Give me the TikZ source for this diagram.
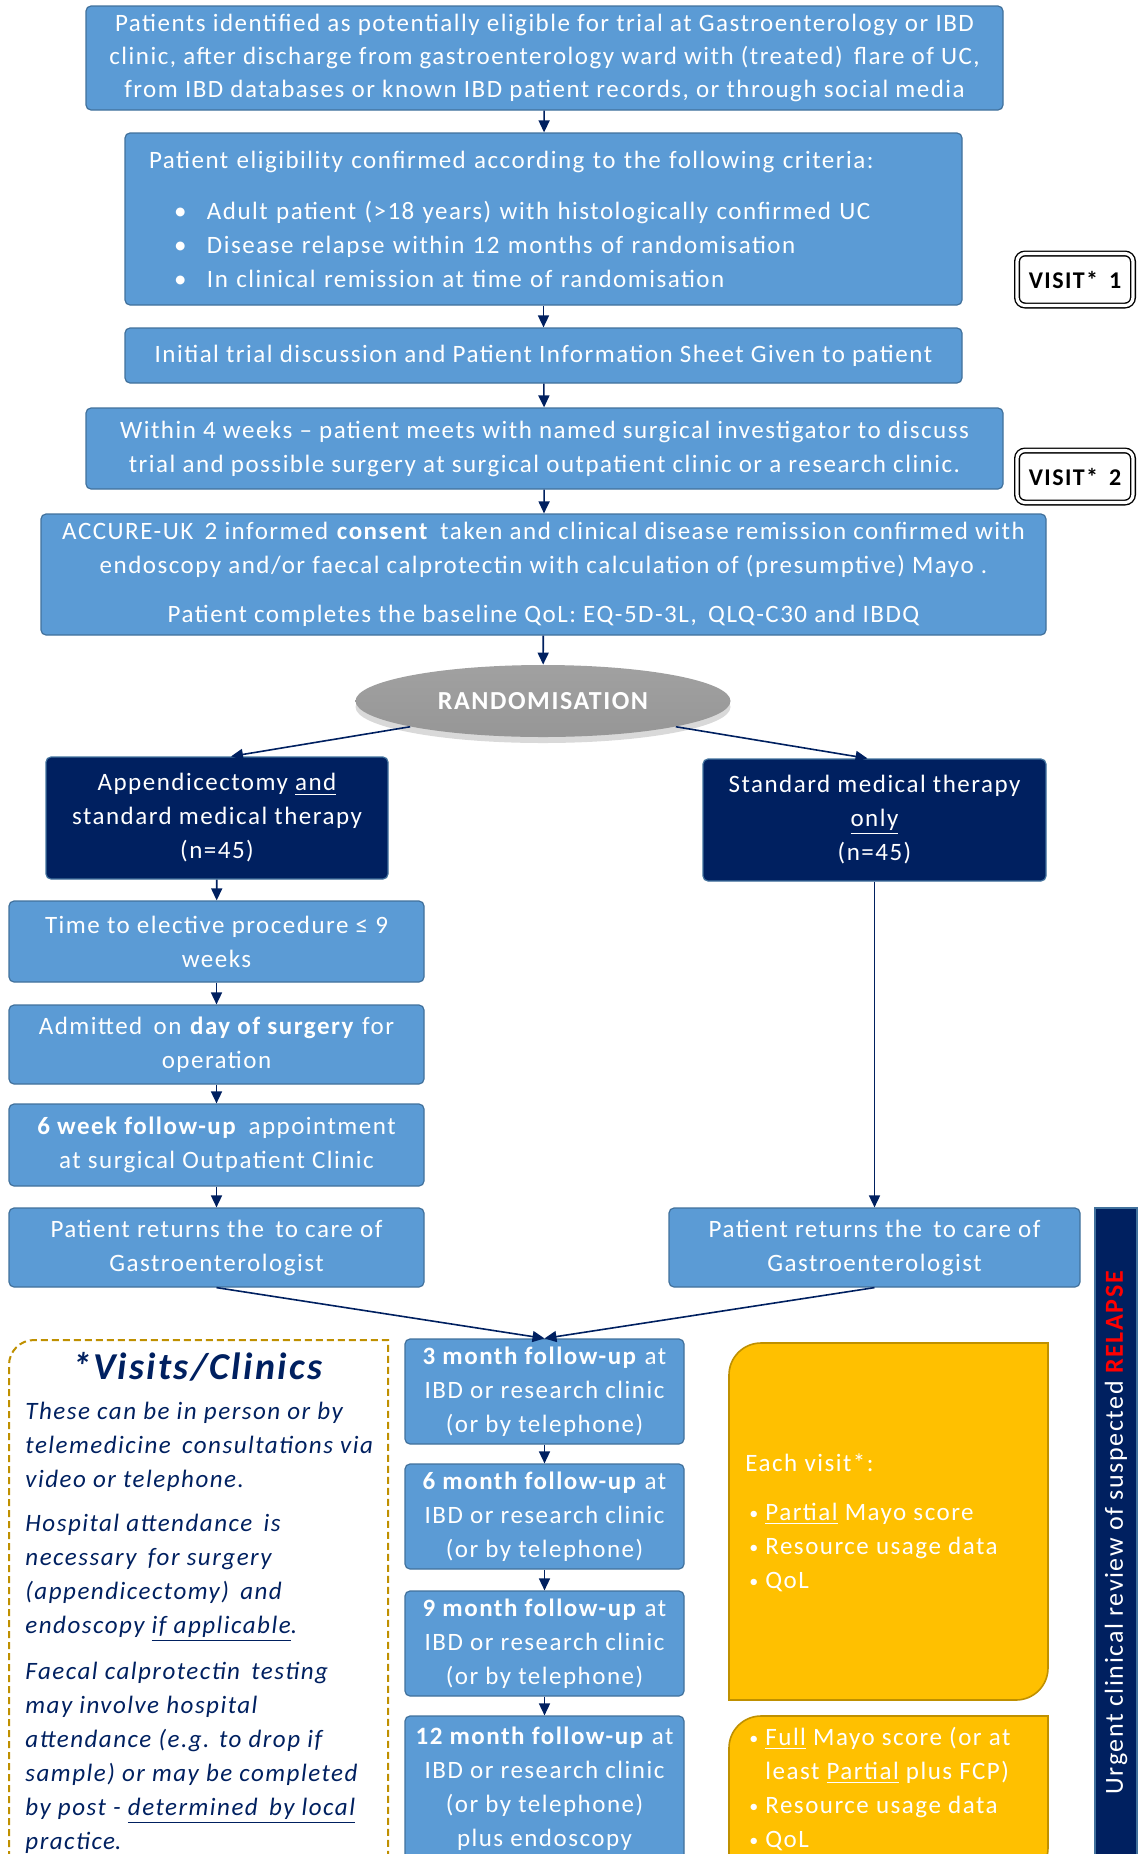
\documentclass[tikz,border=0pt]{standalone}
\usepackage{fontspec}
\setmainfont{Carlito}[LetterSpace=6]
\usetikzlibrary{
  arrows.meta,
  shapes.geometric,
  chains,
  scopes,
  positioning,
  shadows
}
\definecolor{navy}{HTML}{002060}
\definecolor{boxblue}{HTML}{5B9BD5}
\definecolor{boxline}{HTML}{41719C}
\definecolor{gold}{HTML}{FFC000}
\definecolor{goldline}{HTML}{BF9000}
\newcommand\boxfont{\fontsize{12.5pt}{17pt}\selectfont}
\newcommand\blt{\makebox[8pt][l]{\raisebox{0.5pt}{\fontsize{9pt}{9pt}\selectfont\textbullet}}}

\begin{document}
\begin{tikzpicture}[x=0.5pt,y=-0.5pt,
      stepbox/.style={
         rectangle,
         draw=boxline,
         line width=0.6pt,
         fill=boxblue,
         rounded corners=2.5pt,
         text=white,
         align=center,
         inner sep=0pt,
         font=\boxfont
      },
      armbox/.style={stepbox, fill=navy},
      randnode/.style={
         ellipse,
         inner sep=0pt,
         top color=black!37,
         bottom color=black!41,
         draw=none,
         text=white,
         drop shadow={opacity=0.3, shadow xshift=0pt, shadow yshift=-3pt},
         font=\bfseries\fontsize{13pt}{15pt}\selectfont
      },
      flag/.style={
         rectangle,
         draw=black,
         line width=0.7pt,
         double,
         double distance=1.6pt,
         fill=white,
         rounded corners=4pt,
         minimum width=58pt,
         minimum height=26pt,
         inner sep=0pt,
         font=\bfseries\fontsize{12pt}{14pt}\selectfont
      },
      goldbox/.style={fill=gold, draw=goldline, line width=0.8pt},
      goldtext/.style={text=white, align=left, inner sep=0pt, font=\boxfont},
      notebox/.style={draw=goldline, line width=1pt, dash pattern=on 3.5pt off 2pt},
      notetext/.style={text=navy, align=left, inner sep=0pt, font=\itshape\boxfont},
      tip/.style={-{Triangle[length=6pt,width=5.5pt]}, draw=navy, line width=0.8pt}
    ]
  \useasboundingbox (0,0) rectangle (1137,1854);

  % main column
  \node (b1) [stepbox, minimum width=458.5pt, minimum height=52pt,
              font=\fontsize{12.5pt}{16.5pt}\selectfont] at (544.5,58)
    {Patients identified as potentially eligible for trial at Gastroenterology or IBD\\
     clinic, after discharge from gastroenterology ward with (treated)\, flare of UC,\\
     from IBD databases or known IBD patient records, or through social media};
  \node (b2) [stepbox, align=left, text width=394.5pt, inner xsep=12pt,
              minimum height=86pt] at (543.5,219)
    {Patient eligibility confirmed according to the following criteria:\\[8.5pt]
     \hspace*{12.5pt}\makebox[16.5pt][l]{\textbullet}Adult patient (>18 years) with histologically confirmed UC\\
     \hspace*{12.5pt}\makebox[16.5pt][l]{\textbullet}Disease relapse within 12 months of randomisation\\
     \hspace*{12.5pt}\makebox[16.5pt][l]{\textbullet}In clinical remission at time of randomisation};
  \node (b3) [stepbox, minimum width=418.5pt, minimum height=27.5pt] at (543.5,355.5)
    {Initial trial discussion and Patient Information Sheet Given to patient};
  \node (b4) [stepbox, minimum width=458.5pt, minimum height=40.5pt] at (544.5,448.5)
    {Within 4 weeks -- patient meets with named surgical investigator to discuss\\
     trial and possible surgery at surgical outpatient clinic or a research clinic.};
  \node (b5) [stepbox, minimum width=502.5pt, minimum height=60.5pt] at (543.5,574.5)
    {ACCURE-UK\, 2 informed \textbf{consent}\, taken and clinical disease remission confirmed with\\
     endoscopy and/or faecal calprotectin with calculation of (presumptive) Mayo .\\[7.5pt]
     Patient completes the baseline QoL: EQ-5D-3L,\, QLQ-C30 and IBDQ};
  \node (rand) [randnode, minimum width=187.5pt, minimum height=36pt] at (543,701) {RANDOMISATION};

  \node (v1) [flag] at (1075,279.5) {VISIT*\, 1};
  \node (v2) [flag] at (1075,476.5) {VISIT*\, 2};

  % two arms
  \node (armL) [armbox, minimum width=171pt, minimum height=61pt] at (217,818)
    {Appendicectomy \underline{and}\\ standard medical therapy\\ (n=45)};
  \node (armR) [armbox, minimum width=171.5pt, minimum height=61pt] at (874.5,820)
    {Standard medical therapy\\ \underline{only}\\ (n=45)};

  \node (tL) [stepbox, minimum width=207.5pt, minimum height=40.5pt] at (216.5,941.5)
    {Time to elective procedure ≤ 9\\ weeks};
  \node (aL) [stepbox, minimum width=207.5pt, minimum height=39.5pt] at (216.5,1044.5)
    {Admitted\, on \textbf{day of surgery} for\\ operation};
  \node (wL) [stepbox, minimum width=207.5pt, minimum height=41pt] at (216.5,1145)
    {\textbf{6 week follow-up}\, appointment\\ at surgical Outpatient Clinic};
  \node (retL) [stepbox, minimum width=207.5pt, minimum height=39.5pt] at (216.5,1247.5)
    {Patient returns the\, to care of\\ Gastroenterologist};
  \node (retR) [stepbox, minimum width=205.5pt, minimum height=39.5pt] at (874.5,1247.5)
    {Patient returns the\, to care of\\ Gastroenterologist};

  % follow-up column
  \node (f3) [stepbox, minimum width=139.5pt, minimum height=52.5pt] at (544.5,1391.5)
    {\textbf{3 month follow-up} at\\ IBD or research clinic\\ (or by telephone)};
  \node (f6) [stepbox, minimum width=139.5pt, minimum height=52.5pt] at (544.5,1516.5)
    {\textbf{6 month follow-up} at\\ IBD or research clinic\\ (or by telephone)};
  \node (f9) [stepbox, minimum width=139.5pt, minimum height=52.5pt] at (544.5,1643.5)
    {\textbf{9 month follow-up} at\\ IBD or research clinic\\ (or by telephone)};
  \node (f12) [stepbox, minimum width=139.5pt, minimum height=72.5pt] at (544.5,1788.5)
    {\textbf{12 month follow-up} at\\ IBD or research clinic\\ (or by telephone)\\ plus endoscopy};

  % visits note
  \draw[notebox] (9,1880) -- (9,1365) arc[start angle=180, end angle=90, radius=12.5pt]
    -- (388,1340) -- (388,1880);
  \node (vtitle) [text=navy, font=\bfseries\itshape\fontsize{19pt}{22pt}\selectfont] at (197,1367)
    {*Visits/Clinics};
  \node (vbody) [notetext, anchor=north west] at (25,1402)
    {These can be in person or by\\
     telemedicine\, consultations via\\
     video or telephone.\\[5pt]
     Hospital attendance\, is\\
     necessary\, for surgery\\
     (appendicectomy)\, and\\
     endoscopy \underline{if applicable}.\\[6pt]
     Faecal calprotectin\, testing\\
     may involve hospital\\
     attendance (e.g. to drop if\\
     sample) or may be completed\\
     by post - \underline{determined\, by local}\\
     \underline{practice}.};

  % each visit boxes
  \draw[goldbox] (729,1375) arc[start angle=180, end angle=90, radius=16pt] -- (1048,1343)
    -- (1048,1668) arc[start angle=0, end angle=-90, radius=16pt] -- (729,1700) -- cycle;
  \draw[goldbox] (729,1748) arc[start angle=180, end angle=90, radius=16pt] -- (1048,1716)
    -- (1048,1848) arc[start angle=0, end angle=-90, radius=16pt] -- (729,1880) -- cycle;
  \node (g1) [goldtext, anchor=west] at (745,1522.5)
    {Each visit*:\\[7.5pt]
     \hspace*{2pt}\blt\underline{Partial} Mayo score\\
     \hspace*{2pt}\blt Resource usage data\\
     \hspace*{2pt}\blt QoL};
  \node (g2) [goldtext, anchor=west] at (749,1788.5)
    {\blt\underline{Full} Mayo score (or at\\
     \hspace*{8pt}least \underline{Partial} plus FCP)\\
     \blt Resource usage data\\
     \blt QoL};

  % relapse bar
  \node (bar) [rectangle, fill=navy, draw=boxline, line width=0.6pt,
               minimum width=21pt, minimum height=330pt, inner sep=0pt] at (1116,1538) {};
  \node (relapse) [rotate=90, text=white, font=\fontsize{13pt}{15pt}\selectfont] at (1116,1532)
    {Urgent clinical review of suspected \textcolor{red}{\textbf{RELAPSE}}};

  % connectors
  { [start chain]
       \chainin (b1);
       \chainin (b2)    [join=by tip];
       \chainin (b3)    [join=by tip];
       \chainin (b4)    [join=by tip];
       \chainin (b5)    [join=by tip];
       \chainin (rand)  [join=by tip];
  }
  { [start chain]
       \chainin (armL);
       \chainin (tL)    [join=by tip];
       \chainin (aL)    [join=by tip];
       \chainin (wL)    [join=by tip];
       \chainin (retL)  [join=by tip];
  }
  { [start chain]
       \chainin (armR);
       \chainin (retR)  [join=by tip];
  }
  { [start chain]
       \chainin (f3);
       \chainin (f6)    [join=by tip];
       \chainin (f9)    [join=by tip];
       \chainin (f12)   [join=by tip];
  }
  \draw[tip] (rand.south west) -- ([xshift=7pt]armL.north);
  \draw[tip] (rand.south east) -- ([xshift=-3.5pt]armR.north);
  \draw[tip] (retL.south) -- (f3.north);
  \draw[tip] (retR.south) -- (f3.north);
\end{tikzpicture}
\end{document}
